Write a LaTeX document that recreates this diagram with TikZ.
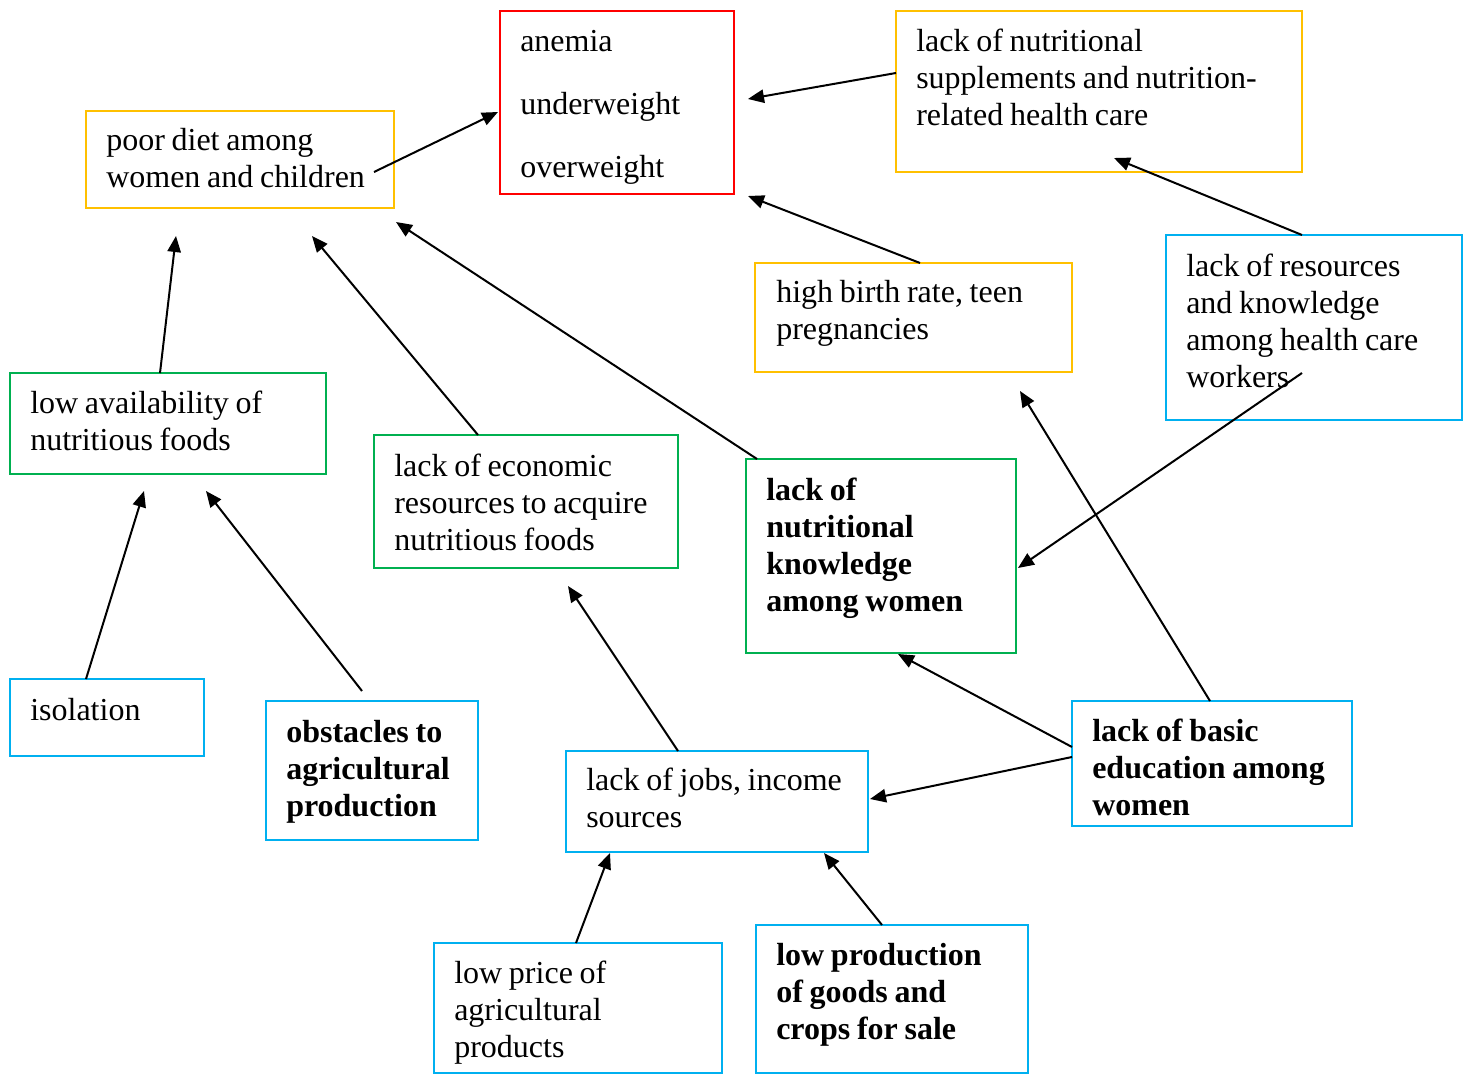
\documentclass[tikz,border=0pt]{standalone}
\usepackage{fontspec}
\setmainfont{Liberation Serif}
\usetikzlibrary{arrows.meta}
\definecolor{cred}{HTML}{FF0000}
\definecolor{cgold}{HTML}{FFC000}
\definecolor{cgreen}{HTML}{00B050}
\definecolor{cblue}{HTML}{00B0F0}
\newcommand\mybox[6]{\node[boxst, draw=#2, minimum width={(#5-#3)*0.75pt}, minimum height={(#6-#4)*0.75pt}] (#1) at (#3,#4) {};}
\newcommand\mytext[4]{\node[txt] (#1-t) at ([shift={(#2,#3)}]#1.north west) {#4};}
\begin{document}
\begin{tikzpicture}[x=0.75pt,y=-0.75pt,
  boxst/.style={anchor=north west, inner sep=0pt, outer sep=0pt, line width=1.5pt, fill=none},
  txt/.style={anchor=base west, inner sep=0pt, text width=400pt, align=left, font=\fontsize{24}{27.75}\selectfont,
    execute at begin node={\frenchspacing\spaceskip=0.21em\relax}},
  arr/.style={line width=1.5pt, -{Triangle[length=12pt,width=10pt]}}]
\useasboundingbox (0,0) rectangle (1468,1074);
\mybox{anemia}{cred}{500}{11}{734}{194}
\mybox{supp}{cgold}{896}{11}{1302}{172}
\mybox{poor}{cgold}{86}{111}{394}{208}
\mybox{birth}{cgold}{755}{263}{1072}{372}
\mybox{res}{cblue}{1166}{235}{1462}{420}
\mybox{avail}{cgreen}{10}{373}{326}{474}
\mybox{econ}{cgreen}{374}{435}{678}{568}
\mybox{know}{cgreen}{746}{459}{1016}{653}
\mybox{iso}{cblue}{10}{679}{204}{756}
\mybox{obst}{cblue}{266}{701}{478}{840}
\mybox{jobs}{cblue}{566}{751}{868}{852}
\mybox{edu}{cblue}{1072}{701}{1352}{826}
\mybox{price}{cblue}{434}{943}{722}{1073}
\mybox{prod}{cblue}{756}{925}{1028}{1073}

\node[txt, font=\fontsize{24}{47.25}\selectfont] (anemia-t) at ([shift={(20,41)}]anemia.north west) {anemia\\underweight\\overweight};
\mytext{supp}{20}{41}{lack of nutritional\\supplements and nutrition-\\related health care}
\mytext{poor}{20}{40}{poor diet among\\women and children}
\mytext{birth}{21}{39}{high birth rate, teen\\pregnancies}
\mytext{res}{20}{41}{lack of resources\\and knowledge\\among health care\\workers}
\mytext{avail}{20}{40}{low availability of\\nutritious foods}
\mytext{econ}{20}{41}{lack of economic\\resources to acquire\\nutritious foods}
\mytext{know}{20}{41}{\bfseries lack of\\nutritional\\knowledge\\among women}
\mytext{iso}{20}{41}{isolation}
\mytext{obst}{20}{41}{\bfseries obstacles to\\agricultural\\production}
\mytext{jobs}{20}{39}{lack of jobs, income\\sources}
\mytext{edu}{20}{40}{\bfseries lack of basic\\education among\\women}
\mytext{price}{20}{40}{low price of\\agricultural\\products}
\mytext{prod}{20}{40}{\bfseries low production\\of goods and\\crops for sale}

\draw[arr] ([shift={(288,61)}]poor.north west) -- ([shift={(-2,101)}]anemia.north west);
\draw[arr] ([shift={(0,62)}]supp.north west) -- ([shift={(248,88)}]anemia.north west);
\draw[arr] ([shift={(165,0)}]birth.north west) -- ([shift={(248,185)}]anemia.north west);
\draw[arr] ([shift={(136,0)}]res.north west) -- ([shift={(218,147)}]supp.north west);
\draw[arr] ([shift={(136,138)}]res.north west) -- ([shift={(272,109)}]know.north west);
\draw[arr] ([shift={(150,0)}]avail.north west) -- ([shift={(90,125)}]poor.north west);
\draw[arr] ([shift={(104,0)}]econ.north west) -- ([shift={(226,125)}]poor.north west);
\draw[arr] ([shift={(11,0)}]know.north west) -- ([shift={(310,111)}]poor.north west);
\draw[arr] ([shift={(76,0)}]iso.north west) -- ([shift={(134,118)}]avail.north west);
\draw[arr] ([shift={(96,-10)}]obst.north west) -- ([shift={(196,118)}]avail.north west);
\draw[arr] ([shift={(112,0)}]jobs.north west) -- ([shift={(194,151)}]econ.north west);
\draw[arr] ([shift={(0,46)}]edu.north west) -- ([shift={(152,195)}]know.north west);
\draw[arr] ([shift={(0,56)}]edu.north west) -- ([shift={(304,48)}]jobs.north west);
\draw[arr] ([shift={(138,0)}]edu.north west) -- ([shift={(265,128)}]birth.north west);
\draw[arr] ([shift={(142,0)}]price.north west) -- ([shift={(44,102)}]jobs.north west);
\draw[arr] ([shift={(126,0)}]prod.north west) -- ([shift={(258,102)}]jobs.north west);
\end{tikzpicture}
\end{document}
